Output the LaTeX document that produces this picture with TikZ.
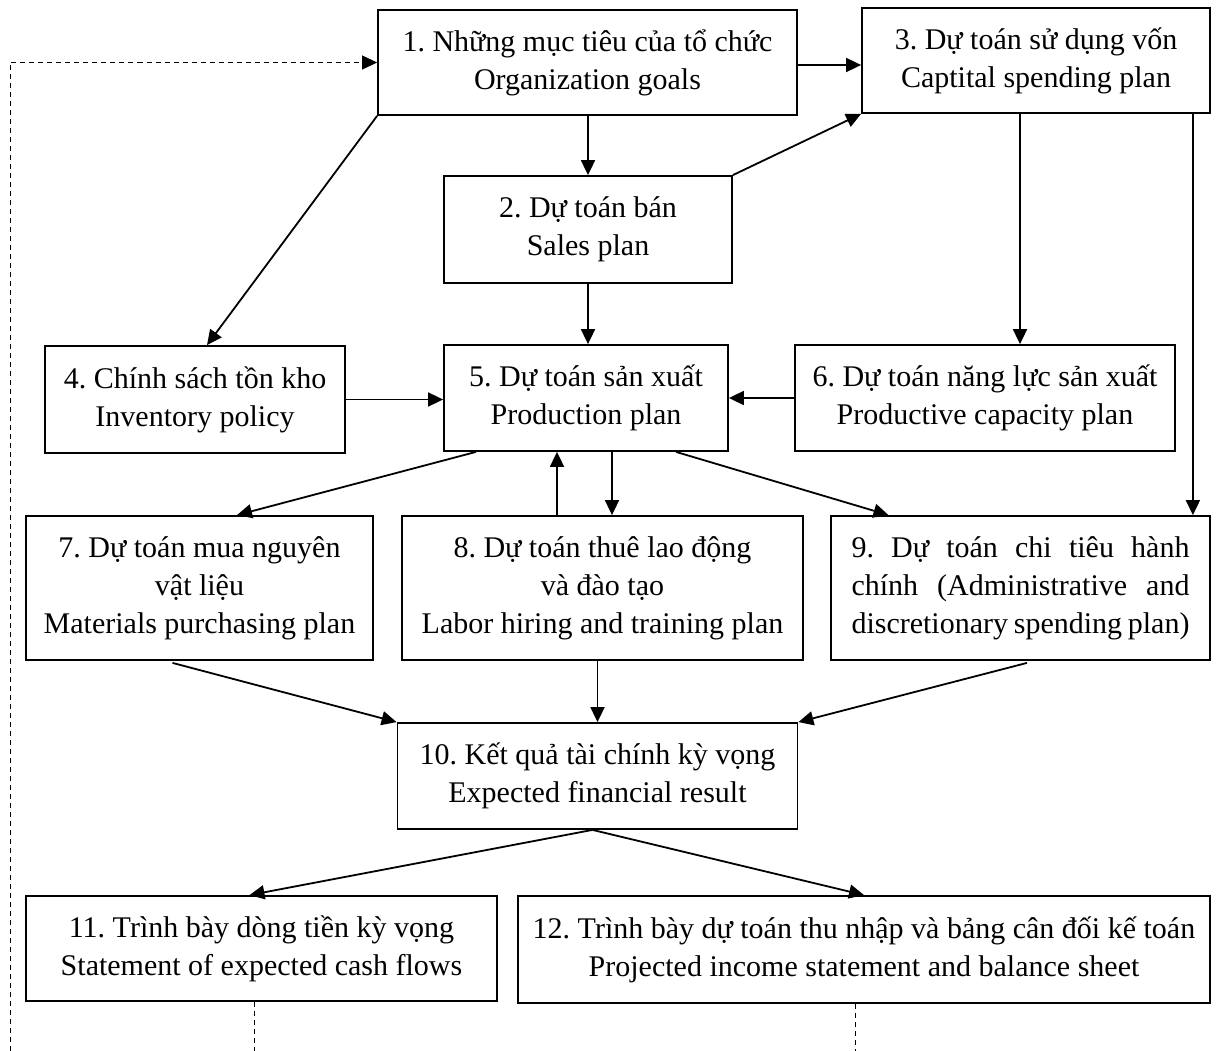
\documentclass[tikz,border=0pt]{standalone}
\usepackage{fontspec}
\setmainfont{Liberation Serif}
\usetikzlibrary{arrows.meta,calc}
\frenchspacing
\tikzset{
  box/.style={draw, line width=1.8pt, align=center, inner sep=0pt,
    font=\fontsize{30pt}{38pt}\selectfont\frenchspacing},
  arr/.style={line width=1.8pt, -{Triangle[length=15pt,width=14pt]}},
  plain/.style={line width=1.8pt},
  dsh/.style={line width=1pt, dash pattern=on 5pt off 4pt},
  dsharr/.style={dsh, -{Triangle[length=15pt,width=14pt]}}
}
\begin{document}
\begin{tikzpicture}[x=1pt,y=-1pt]
\path[use as bounding box] (0,0) rectangle (1216,1051);

\node[box, minimum width=419pt, minimum height=105pt] (b1) at (587.5,62.5)
  {1. Những mục tiêu của tổ chức\\Organization goals};
\node[box, minimum width=348pt, minimum height=105pt] (b3) at (1036,60.5)
  {3. Dự toán sử dụng vốn\\Captital spending plan};
\node[box, minimum width=288pt, minimum height=107pt] (b2) at (588,229.5)
  {2. Dự toán bán\\Sales plan};
\node[box, minimum width=300pt, minimum height=107pt] (b4) at (195,399.5)
  {4. Chính sách tồn kho\\Inventory policy};
\node[box, minimum width=284pt, minimum height=106pt] (b5) at (586,398)
  {5. Dự toán sản xuất\\Production plan};
\node[box, minimum width=380pt, minimum height=106pt] (b6) at (985,398)
  {6. Dự toán năng lực sản xuất\\Productive capacity plan};
\node[box, minimum width=347pt, minimum height=144pt] (b7) at (199.5,588)
  {7. Dự toán mua nguyên\\vật liệu\\Materials purchasing plan};
\node[box, minimum width=401pt, minimum height=144pt] (b8) at (602.5,588)
  {8. Dự toán thuê lao động\\và đào tạo\\Labor hiring and training plan};
\node[box, minimum width=379pt, minimum height=144pt] (b9) at (1020.5,588)
  {\makebox[338pt][s]{9. Dự toán chi tiêu hành}\\
   \makebox[338pt][s]{chính (Administrative and}\\
   \makebox[338pt][s]{discretionary spending plan)}};
\node[box, minimum width=400pt, minimum height=106pt] (b10) at (597.5,776)
  {10. Kết quả tài chính kỳ vọng\\Expected financial result};
\node[box, minimum width=471pt, minimum height=105pt] (b11) at (261.5,948.5)
  {11. Trình bày dòng tiền kỳ vọng\\Statement of expected cash flows};
\node[box, minimum width=692pt, minimum height=107pt] (b12) at (864,949.5)
  {12. Trình bày dự toán thu nhập và bảng cân đối kế toán\\Projected income statement and balance sheet};

% helper coordinates
\coordinate (c14) at ([xshift=12pt]b4.north);
\coordinate (c36) at ([xshift=35pt]b6.north);
\coordinate (c39) at ([xshift=-18pt]b9.north east);
\coordinate (c57s) at ([xshift=-110pt]b5.south);
\coordinate (c57e) at ([xshift=37.5pt]b7.north);
\coordinate (c85) at ([xshift=-45.5pt]b8.north);
\coordinate (c58) at ([xshift=9.5pt]b8.north);
\coordinate (c59s) at ([xshift=90pt]b5.south);
\coordinate (c59e) at ([xshift=-132pt]b9.north);
\coordinate (c710) at ([xshift=-27pt,yshift=-2pt]b7.south);
\coordinate (c910) at ([xshift=6.5pt,yshift=-2pt]b9.south);
\coordinate (c10s) at ([xshift=-5pt]b10.south);
\coordinate (c11n) at ([xshift=-12pt]b11.north);
\coordinate (d11) at (254,1051);
\coordinate (d12) at (855,1051);
\coordinate (dl) at (10,1051);

% connectors
\draw[arr] (b2.north |- b1.south) -- (b2.north);
\draw[arr] (b1.east |- 0,65) -- (b3.west |- 0,65);
\draw[arr] (b1.south west) -- (c14);
\draw[arr] (b2.north east) -- (b3.south west);
\draw[arr] (b2.south) -- (b2.south |- b5.north);
\draw[arr] (c36 |- b3.south) -- (c36);
\draw[arr] (c39 |- b3.south) -- (c39);
\draw[arr] (b4.east) -- (b4.east -| b5.west);
\draw[arr] (b6.west) -- (b6.west -| b5.east);
\draw[arr] (c57s) -- (c57e);
\draw[arr] (c85) -- (c85 |- b5.south);
\draw[arr] (c58 |- b5.south) -- (c58);
\draw[arr] (c59s) -- (c59e);
\draw[arr] (c710) -- (b10.north west);
\draw[arr] (b10.north |- b8.south) -- (b10.north);
\draw[arr] (c910) -- (b10.north east);
\draw[arr] (c10s) -- (c11n);
\draw[arr] (c10s) -- (b12.north);

% dashed feedback lines
\draw[dsh] (d11 |- b11.south) -- (d11);
\draw[dsh] (d12 |- b12.south) -- (d12);
\draw[dsharr] (dl) |- (b1.west);
\end{tikzpicture}
\end{document}
